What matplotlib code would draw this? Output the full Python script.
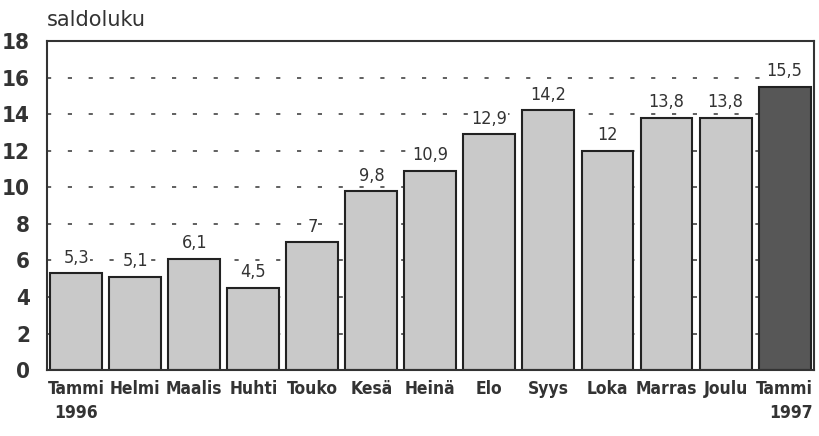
import matplotlib.pyplot as plt

plt.rcParams['font.family'] = ['DejaVu Sans']
plt.rcParams['font.stretch'] = 'condensed'

# Monthly balance figures (saldoluku), Jan 1996 - Jan 1997
months = ['Tammi\n1996', 'Helmi', 'Maalis', 'Huhti', 'Touko', 'Kesä', 'Heinä',
          'Elo', 'Syys', 'Loka', 'Marras', 'Joulu', 'Tammi\n1997']
values = [5.3, 5.1, 6.1, 4.5, 7.0, 9.8, 10.9, 12.9, 14.2, 12.0, 13.8, 13.8, 15.5]
value_labels = ['5,3', '5,1', '6,1', '4,5', '7', '9,8', '10,9', '12,9', '14,2',
                '12', '13,8', '13,8', '15,5']
yticks = [0, 2, 4, 6, 8, 10, 12, 14, 16, 18]

text_color = '#333333'
colors = ['#c9c9c9'] * (len(values) - 1) + ['#575757']

fig = plt.figure(figsize=(8.19, 4.36), dpi=100)
ax = fig.add_axes([0.057, 0.151, 0.937, 0.755])

x = range(len(values))
ax.bar(x, values, width=0.88, color=colors, edgecolor='#222222', linewidth=1.5, zorder=2)

for i, (v, lab) in enumerate(zip(values, value_labels)):
    ax.text(i, v + 0.35, lab, ha='center', va='bottom', fontsize=13,
            color=text_color, zorder=3,
            bbox=dict(facecolor='white', edgecolor='none', pad=0.5))

ax.set_xlim(-0.5, 12.5)
ax.set_ylim(0, 18)
ax.set_yticks(yticks)
ax.set_yticklabels([str(t) for t in yticks], fontsize=16, color=text_color, fontweight='bold')
ax.set_xticks(list(x))
ax.set_xticklabels(months, fontsize=12.5, color=text_color, fontweight='bold', linespacing=1.45)
ax.get_xticklabels()[-1].set_multialignment('right')
ax.tick_params(axis='both', length=0, pad=7)
ax.tick_params(axis='y', pad=12)

for t in yticks[1:-1]:
    ax.axhline(t, color='#444444', linestyle=(0, (2.5, 10)), linewidth=1.2, zorder=1)

for s in ax.spines.values():
    s.set_color('#333333')
    s.set_linewidth(1.5)

fig.text(0.057, 0.955, 'saldoluku', fontsize=15, color=text_color, ha='left', va='center',
         fontstretch='normal')

plt.savefig('out.png', dpi=100)
